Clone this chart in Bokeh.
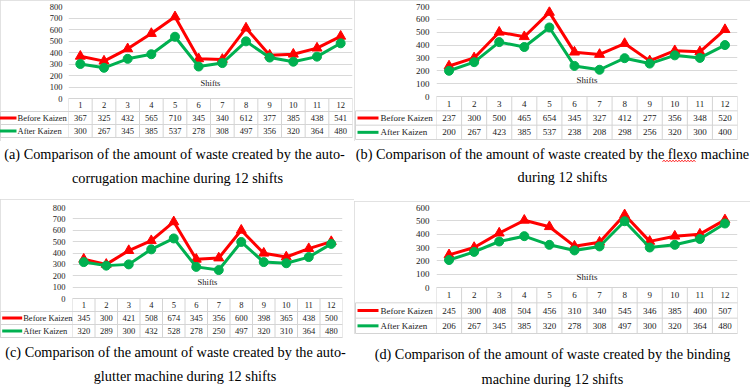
import numpy as np
from bokeh.plotting import figure
from bokeh.layouts import column, row
from bokeh.models import Range1d, FixedTicker, Label, ColumnDataSource, Spacer
from bokeh.core.properties import value
from bokeh.embed import file_html
from bokeh.resources import INLINE

# ---- data -------------------------------------------------------------
shifts = list(range(1, 13))
shift_labels = [str(s) for s in shifts]
before_label = "Before Kaizen"
after_label = "After Kaizen"

corrugation_before = [367, 325, 432, 565, 710, 345, 340, 612, 377, 385, 438, 541]
corrugation_after = [300, 267, 345, 385, 537, 278, 308, 497, 356, 320, 364, 480]

flexo_before = [237, 300, 500, 465, 654, 345, 327, 412, 277, 356, 348, 520]
flexo_after = [200, 267, 423, 385, 537, 238, 208, 298, 256, 320, 300, 400]

glutter_before = [345, 300, 421, 508, 674, 345, 356, 600, 398, 365, 438, 500]
glutter_after = [320, 289, 300, 432, 528, 278, 250, 497, 320, 310, 364, 480]

binding_before = [245, 300, 408, 504, 456, 310, 340, 545, 346, 385, 400, 507]
binding_after = [206, 267, 345, 385, 320, 278, 308, 497, 300, 320, 364, 480]

y_axis_title = "Wastage (grams)"
x_axis_title = "Shifts"

caption_a = ["(a) Comparison of the amount of waste created by the auto-",
             "corrugation machine during 12 shifts"]
caption_b = ["(b) Comparison of the amount of waste created by the flexo machine",
             "during 12 shifts"]
caption_c = ["(c) Comparison of the amount of waste created by the auto-",
             "glutter machine during 12 shifts"]
caption_d = ["(d) Comparison of the amount of waste created by the binding",
             "machine during 12 shifts"]

# ---- styling ----------------------------------------------------------
RED = "#FF0000"
GREEN = "#00B050"
SERIF = "Liberation Serif"
GRID = "#d9d9d9"
CELL = "#d4d4d4"
INK = "#1a1a1a"
BOX = {"outline": "1px solid #d9d9d9", "outline-offset": "-1px"}


def build_panel(before, after, ymax, caption, cfg):
    W = cfg["width"]
    L, R = cfg["frame_left"], cfg["frame_right"]
    n = len(shifts)
    cw = (W - L - R) / n
    font = cfg["font"]

    # the frame holds the line chart on top and the data table underneath
    chart_px, rh = cfg["chart_px"], cfg["row_h"]
    upp = ymax / chart_px
    row_u = rh * upp
    table_u = 3 * row_u
    frame_h = chart_px + 3 * rh
    H = int(round(cfg["top"] + frame_h + cfg["bottom"]))

    def px_x(px):
        return 0.5 - (L - px) / cw

    p = figure(width=W, height=H, x_range=Range1d(0.5, n + 0.5),
               y_range=Range1d(-table_u, ymax), x_axis_location=None,
               toolbar_location=None, title=None, output_backend="svg",
               min_border_left=L, min_border_right=R, min_border_top=cfg["top"],
               min_border_bottom=cfg["bottom"], outline_line_color=None,
               background_fill_color="white", border_fill_color="white",
               frame_align=False, styles=BOX)
    p.xgrid.visible = False
    ax = p.yaxis[0]
    ax.ticker = FixedTicker(ticks=list(range(0, ymax + 1, 100)))
    p.ygrid.grid_line_color = GRID
    ax.axis_line_color = None
    ax.major_tick_line_color = None
    ax.minor_tick_line_color = None
    ax.major_tick_out = 0
    ax.major_tick_in = 0
    ax.major_label_standoff = cfg["standoff"]
    ax.major_label_text_font = SERIF
    ax.major_label_text_font_size = font
    ax.major_label_text_color = INK

    p.add_layout(Label(x=px_x(cfg["title_x"]), y=ymax / 2, text=y_axis_title,
                       angle=np.pi / 2, text_align="center", text_baseline="middle",
                       text_font=SERIF, text_font_size=cfg["title_font"],
                       text_color=INK))
    p.add_layout(Label(x=(n + 1) / 2, y=cfg["shifts_y"], text=x_axis_title,
                       text_align="center", text_baseline="middle",
                       text_font=SERIF, text_font_size=font, text_color=INK))

    src = ColumnDataSource(dict(x=shifts, before=before, after=after))
    p.line("x", "before", source=src, line_color=RED, line_width=3)
    p.scatter("x", "before", source=src, marker="triangle", size=10,
              fill_color=RED, line_color=RED)
    p.line("x", "after", source=src, line_color=GREEN, line_width=3)
    p.scatter("x", "after", source=src, marker="circle", size=9,
              fill_color=GREEN, line_color=GREEN)

    # data table cells
    edges = [s - 0.5 for s in shifts] + [shifts[-1] + 0.5]
    row_lines = [0, -row_u, -2 * row_u, -3 * row_u]
    leg_left = px_x(cfg["legend_box"])
    p.segment(x0=edges, y0=[0] * len(edges), x1=edges, y1=[-table_u] * len(edges),
              line_color=CELL, line_width=1)
    p.segment(x0=[0.5], y0=[0], x1=[edges[-1]], y1=[0], line_color=CELL, line_width=1)
    p.segment(x0=[leg_left] * 3, y0=row_lines[1:], x1=[edges[-1]] * 3, y1=row_lines[1:],
              line_color=CELL, line_width=1, level="overlay")
    p.segment(x0=[leg_left], y0=[-row_u], x1=[leg_left], y1=[-table_u],
              line_color=CELL, line_width=1, level="overlay")

    text_kw = dict(text_align="center", text_baseline="middle",
                   text_font=value(SERIF), text_font_size=font, text_color=INK)
    p.text(x=shifts, y=[-0.5 * row_u] * n, text=shift_labels, **text_kw)
    p.text(x=shifts, y=[-1.5 * row_u] * n, text=[str(v) for v in before], **text_kw)
    p.text(x=shifts, y=[-2.5 * row_u] * n, text=[str(v) for v in after], **text_kw)

    # series keys in the table's first column
    k0, k1, kt = cfg["key"]
    kx0, kx1 = px_x(k0), px_x(k1)
    km = (kx0 + kx1) / 2
    ky = [-1.5 * row_u, -2.5 * row_u]
    p.segment(x0=[kx0, kx0], y0=ky, x1=[kx1, kx1], y1=ky,
              line_color=[RED, GREEN], line_width=3, level="overlay")
    p.scatter([km], [ky[0]], marker="triangle", size=7, fill_color=RED,
              line_color=RED, level="overlay")
    p.scatter([km], [ky[1]], marker="circle", size=6, fill_color=GREEN,
              line_color=GREEN, level="overlay")
    p.text(x=[px_x(kt)] * 2, y=ky, text=[before_label, after_label],
           text_align="left", text_baseline="middle", text_font=value(SERIF),
           text_font_size=font, text_color=INK, level="overlay")

    # caption under the chart box
    ch = cfg["cap_h"]
    cap = figure(width=W, height=ch, x_range=Range1d(0, W), y_range=Range1d(ch, 0),
                 x_axis_location=None, y_axis_location=None, toolbar_location=None,
                 title=None, output_backend="svg", min_border=0,
                 min_border_left=0, min_border_right=0, min_border_top=0,
                 min_border_bottom=0, frame_align=False,
                 outline_line_color=None, background_fill_color="white",
                 border_fill_color="white")
    cap.grid.visible = False
    cap.text(x=cfg["cap_x"], y=cfg["cap_y"], text=caption, text_align="center",
             text_baseline="middle", text_font=value(SERIF),
             text_font_size="14.3px", text_color="black", level="overlay")
    if "squiggle" in cfg:
        sx0, sx1, sy = cfg["squiggle"]
        wx = np.arange(sx0, sx1 + 0.01, 1.5)
        wy = sy + 0.9 * (-1.0) ** np.arange(len(wx))
        cap.line(wx, wy, line_color=RED, line_width=0.8, level="overlay")

    parts = []
    if cfg["pre"]:
        parts.append(Spacer(width=W, height=cfg["pre"]))
    parts += [p, cap]
    return column(*parts)


cfg_a = dict(width=354, frame_left=68, frame_right=2, top=6, chart_px=92,
             row_h=13, bottom=4, cap_h=53, cap_x=[174, 177], cap_y=[12, 36],
             key=(-4, 16, 17), legend_box=0, font="8.5px", title_font="9px",
             title_x=23.5, standoff=6, shifts_y=139, pre=0)
cfg_b = dict(width=396, frame_left=82, frame_right=13, top=6, chart_px=90,
             row_h=43 / 3, bottom=2, cap_h=53, cap_x=[198, 208], cap_y=[12.3, 35.7],
             key=(3, 24, 26), legend_box=1, font="9px", title_font="10px",
             title_x=27.5, standoff=7, shifts_y=132, pre=0,
             squiggle=(308, 341, 19.5))
cfg_c = dict(width=354, frame_left=72, frame_right=12, top=8, chart_px=91,
             row_h=13, bottom=1, cap_h=50, cap_x=[175, 184.5], cap_y=[13.7, 37],
             key=(1.7, 21.7, 22.7), legend_box=0, font="8.5px", title_font="9px",
             title_x=21.7, standoff=7, shifts_y=149, pre=5)
cfg_d = dict(width=396, frame_left=82, frame_right=13, top=6, chart_px=80,
             row_h=46 / 3, bottom=1, cap_h=54, cap_x=[198, 198], cap_y=[19.3, 44.3],
             key=(3, 24, 26), legend_box=1, font="9px", title_font="10px",
             title_x=28, standoff=7, shifts_y=77, pre=7)

panel_a = build_panel(corrugation_before, corrugation_after, 800, caption_a, cfg_a)
panel_b = build_panel(flexo_before, flexo_after, 700, caption_b, cfg_b)
panel_c = build_panel(glutter_before, glutter_after, 800, caption_c, cfg_c)
panel_d = build_panel(binding_before, binding_after, 600, caption_d, cfg_d)

p = row(column(panel_a, panel_c), column(panel_b, panel_d))

open("out.html", "w").write(file_html(p, INLINE))
